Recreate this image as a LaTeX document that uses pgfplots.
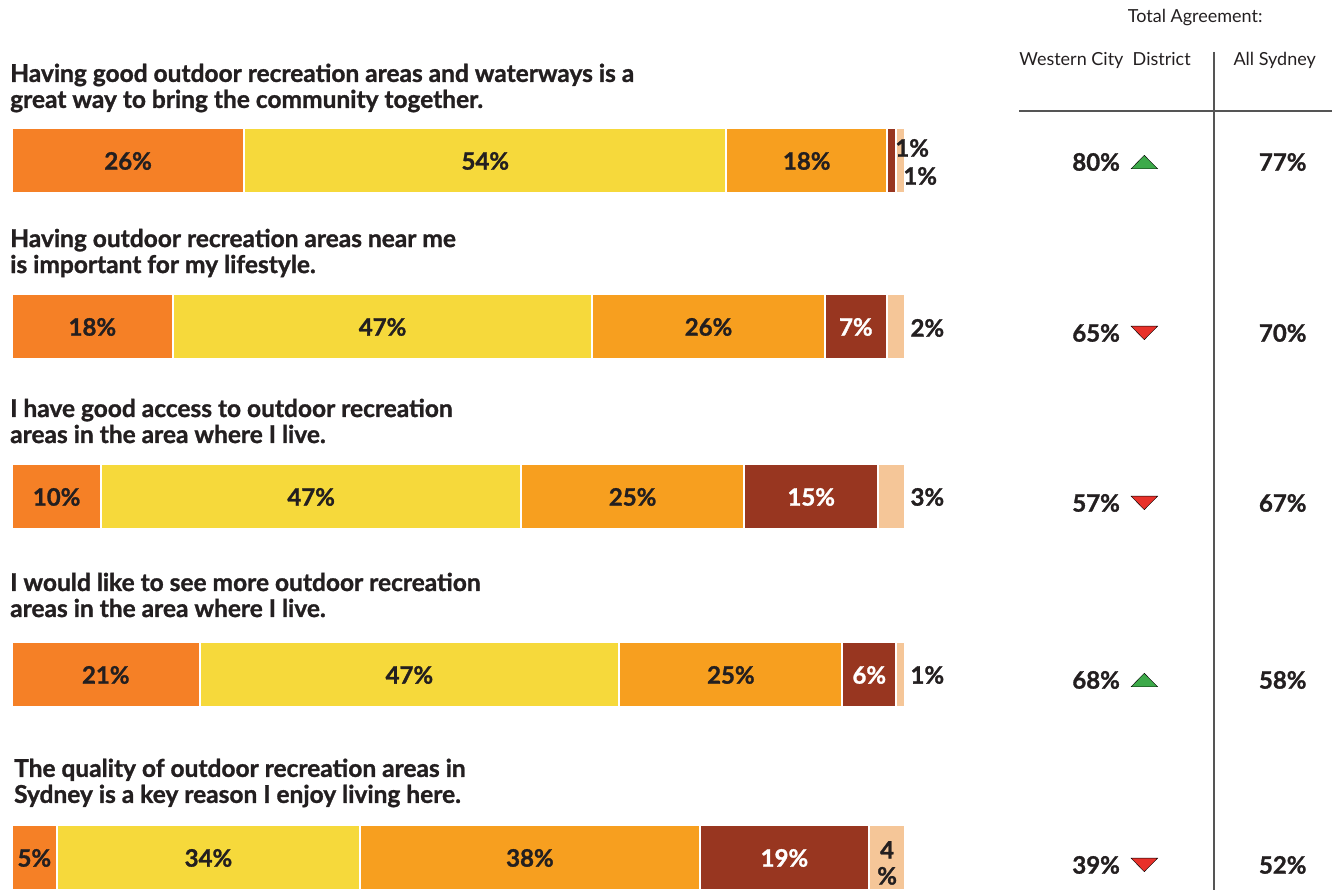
\documentclass[border=0pt]{standalone}
\usepackage{pgfplots}
\pgfplotsset{compat=1.18}
\usepackage{pgfplotstable}
\usepackage{fontspec}
\setmainfont{Lato}[BoldFeatures={FakeBold=1.2}]

\definecolor{sagree}{HTML}{F58026}
\definecolor{agree}{HTML}{F6D93B}
\definecolor{neutral}{HTML}{F79F1F}
\definecolor{disagree}{HTML}{983620}
\definecolor{sdisagree}{HTML}{F5C698}
\definecolor{txt}{HTML}{231F20}
\definecolor{upc}{HTML}{3DAA4A}
\definecolor{downc}{HTML}{E8312A}
\definecolor{rulec}{HTML}{555555}

\newcommand\lbl{\fontsize{24}{26}\selectfont\bfseries}
\newcommand\qst{\fontsize{24.5}{26}\selectfont\bfseries}
\newcommand\hdr{\fontsize{18}{20}\selectfont}

% y = row of each bar centre (1 unit = 1 px of the picture)
\pgfplotstableread{
y   sa a  n  d  sd
161 26 54 18 1  1
327 18 47 26 7  2
497 10 47 25 15 3
675 21 47 25 6  1
858 5  34 38 19 4
}\responses

% total agreement, trend: 1 = up, -1 = down
\pgfplotstableread{
y   wcd syd trend
162 80  77  1
333 65  70  -1
503 57  67  -1
680 68  58  1
865 39  52  -1
}\agreement

\pgfplotsset{
  canvas/.style={x=8.93pt, y=1pt, xmin=-1.344, xmax=147.82,
    ymin=0, ymax=890, y dir=reverse, hide axis, clip=false,
    /pgf/number format/assume math mode=true},
  % stacked nodes near coords already sit in the middle of their segment
  seg/.style 2 args={fill=#2, draw=white, line width=2pt,
    visualization depends on={\thisrow{#1} \as \segval},
    point meta=\thisrow{#1},
    nodes near coords={\ifdim\segval pt<2pt\else\pgfmathprintnumber{\pgfplotspointmeta}\%\fi},
    every node near coord/.append style={anchor=center, font=\lbl, text=txt}},
}

\begin{document}
\begin{tikzpicture}
\begin{axis}[canvas, xbar stacked, bar width=65]
\addplot[seg={sa}{sagree}] table[x=sa, y=y] {\responses};
\addplot[seg={a}{agree}] table[x=a, y=y] {\responses};
\addplot[seg={n}{neutral}] table[x=n, y=y] {\responses};
\addplot[seg={d}{disagree}, every node near coord/.append style={text=white}] table[x=d, y=y] {\responses};
\addplot[fill=sdisagree, draw=white, line width=2pt] table[x=sd, y=y] {\responses};

% statements
\node[font=\qst, text=txt, anchor=west, align=left, inner sep=0pt] at (axis cs:-0.22,88)
  {Having good outdoor recreation areas and waterways is a\\great way to bring the community together.};
\node[font=\qst, text=txt, anchor=west, align=left, inner sep=0pt] at (axis cs:-0.22,253)
  {Having outdoor recreation areas near me\\is important for my lifestyle.};
\node[font=\qst, text=txt, anchor=west, align=left, inner sep=0pt] at (axis cs:-0.22,421)
  {I have good access to outdoor recreation\\areas in the area where I live.};
\node[font=\qst, text=txt, anchor=west, align=left, inner sep=0pt] at (axis cs:-0.22,595)
  {I would like to see more outdoor recreation\\areas in the area where I live.};
\node[font=\qst, text=txt, anchor=west, align=left, inner sep=0pt] at (axis cs:0.22,783)
  {The quality of outdoor recreation areas in\\Sydney is a key reason I enjoy living here.};

\coordinate (bl) at (rel axis cs:0,0);
\coordinate (tr) at (rel axis cs:1,1);
\end{axis}

\begin{axis}[canvas]
% labels of the thin segments, drawn over the bars
\node[font=\lbl, text=txt, anchor=west, inner sep=0pt] at (axis cs:98.9,148) {1\%};
\node[font=\lbl, text=txt, anchor=west, inner sep=0pt] at (axis cs:99.8,176) {1\%};
\node[font=\lbl, text=txt, anchor=west, inner sep=0pt] at (axis cs:100.6,328) {2\%};
\node[font=\lbl, text=txt, anchor=west, inner sep=0pt] at (axis cs:100.6,497) {3\%};
\node[font=\lbl, text=txt, anchor=west, inner sep=0pt] at (axis cs:100.6,675) {1\%};
\node[font=\lbl, text=txt, align=center, inner sep=0pt] at (axis cs:98,863) {4\\\%};

% header
\node[font=\hdr, text=txt] at (axis cs:132.5,18) {Total Agreement:};
\node[font=\hdr, text=txt] at (axis cs:122.4,60) {Western City~ District};
\node[font=\hdr, text=txt] at (axis cs:141.4,60) {All Sydney};
\draw[rulec, line width=1.2pt] (axis cs:134.6,52) -- (axis cs:134.6,890);
\draw[rulec, line width=1.2pt] (axis cs:112.8,111) -- (axis cs:147.82,111);

\addplot[draw=none, mark=none, point meta=\thisrow{wcd},
  nodes near coords={\pgfmathprintnumber{\pgfplotspointmeta}\%},
  every node near coord/.append style={anchor=center, font=\lbl, text=txt}]
  table[x expr=121.4, y=y] {\agreement};
\addplot[draw=none, mark=none, point meta=\thisrow{syd},
  nodes near coords={\pgfmathprintnumber{\pgfplotspointmeta}\%},
  every node near coord/.append style={anchor=center, font=\lbl, text=txt}]
  table[x expr=142.3, y=y] {\agreement};

\addplot[only marks, mark=triangle*, mark size=9pt,
  mark options={fill=upc, draw=none, xscale=1.7, yshift=-2.3pt}]
  table[x expr={\thisrow{trend}>0 ? 126.8 : nan}, y=y] {\agreement};
\addplot[only marks, mark=triangle*, mark size=9pt,
  mark options={fill=downc, draw=none, rotate=180, xscale=1.7, yshift=-2.3pt}]
  table[x expr={\thisrow{trend}<0 ? 126.8 : nan}, y=y] {\agreement};
\end{axis}
\pgfresetboundingbox
\path (bl) rectangle (tr);
\end{tikzpicture}
\end{document}
